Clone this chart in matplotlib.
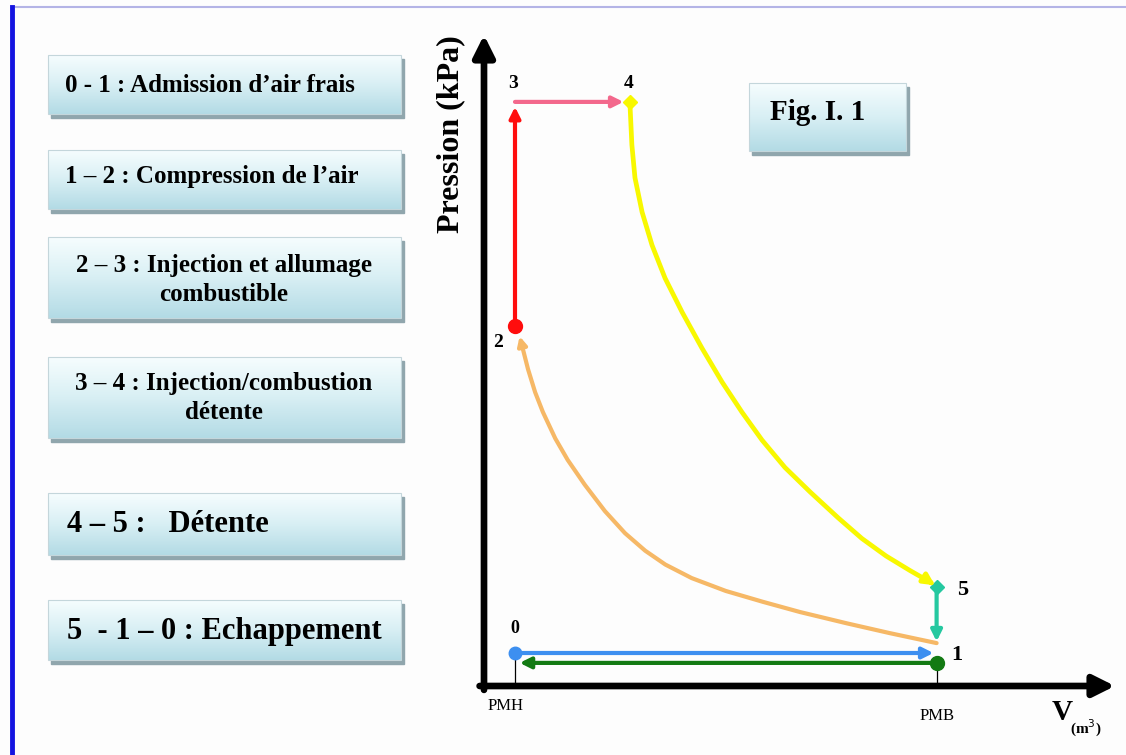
import matplotlib.pyplot as plt
import numpy as np
from matplotlib.colors import LinearSegmentedColormap
from matplotlib.patches import Rectangle

plt.rcParams['font.family'] = ['Liberation Serif', 'DejaVu Serif']

# points du cycle (unites arbitraires)
V_pmh = 1.0
V_pmb = 14.6
V_4 = 4.7
P_0 = 1.0
P_1 = 1.25
P_2 = 10.9
P_3 = 17.7
P_5 = 3.0
P_ech = 0.7

# compression 1 -> 2
comp_V = [14.6, 13.1, 11.7, 10.2, 9.0, 7.8, 6.7, 5.85, 5.2, 4.55, 3.9, 3.25, 2.7, 2.3, 1.9, 1.65, 1.42, 1.23]
comp_P = [1.3, 1.6, 1.9, 2.24, 2.55, 2.88, 3.27, 3.68, 4.1, 4.63, 5.3, 6.1, 6.85, 7.5, 8.3, 8.9, 9.6, 10.3]

# detente 4 -> 5
det_V = [4.71, 4.77, 4.87, 5.1, 5.42, 5.84, 6.39, 7.03, 7.68, 8.32, 8.97, 9.71, 10.52, 11.42, 12.19, 12.97, 13.74, 14.39]
det_P = [17.6, 16.4, 15.4, 14.36, 13.36, 12.36, 11.33, 10.24, 9.21, 8.3, 7.45, 6.62, 5.88, 5.1, 4.47, 3.94, 3.5, 3.15]

etapes = ['0 - 1 : Admission d\u2019air frais',
          '1 \u2013 2 : Compression de l\u2019air',
          '2 \u2013 3 : Injection et allumage\ncombustible',
          '3 \u2013 4 : Injection/combustion\nd\u00e9tente',
          '4 \u2013 5 :   D\u00e9tente',
          '5  - 1 \u2013 0 : Echappement']

fig = plt.figure(figsize=(11.26, 7.55), dpi=100)
fig.patch.set_facecolor('#fdfdfd')

# fond en coordonnees pixels pour le cadre et les boites
bg = fig.add_axes([0, 0, 1, 1])
bg.set_xlim(0, 1126)
bg.set_ylim(755, 0)
bg.axis('off')

bg.plot([12, 1126], [7, 7], color='#b4b4e6', lw=1.5)
bg.plot([12, 12], [7, 755], color='#1414e0', lw=3.5)

degrade = LinearSegmentedColormap.from_list('boite', ['#f6fdfe', '#d8eff4', '#b3dbe5'])
grad = np.linspace(0, 1, 100).reshape(-1, 1)


def boite(x0, y0, x1, y1):
    bg.add_patch(Rectangle((x0 + 3, y0 + 4), x1 - x0, y1 - y0, color='#90a6ad', zorder=1))
    bg.imshow(grad, cmap=degrade, extent=[x0, x1, y1, y0], aspect='auto', zorder=2)
    bg.add_patch(Rectangle((x0, y0), x1 - x0, y1 - y0, fill=False, ec='#c4d6db', lw=0.8, zorder=3))


boxes = [(48, 55, 401, 114), (48, 150, 401, 209), (48, 237, 401, 318),
         (48, 357, 401, 438), (48, 493, 401, 555), (48, 600, 401, 660)]
for b in boxes:
    boite(*b)
bg.set_xlim(0, 1126)
bg.set_ylim(755, 0)

bg.text(65, 86, etapes[0], fontsize=18, fontweight='bold', va='center', zorder=4)
bg.text(65, 176, etapes[1], fontsize=18, fontweight='bold', va='center', zorder=4)
bg.text(224, 280, etapes[2], fontsize=18, fontweight='bold', va='center', ha='center',
        linespacing=1.3, zorder=4)
bg.text(224, 398, etapes[3], fontsize=18, fontweight='bold', va='center', ha='center',
        linespacing=1.3, zorder=4)
bg.text(67, 525, etapes[4], fontsize=22, fontweight='bold', va='center', zorder=4)
bg.text(67, 631, etapes[5], fontsize=22, fontweight='bold', va='center', zorder=4)

boite(749, 83, 906, 151)
bg.text(770, 113, 'Fig. I. 1', fontsize=21, fontweight='bold', va='center', zorder=4)

# diagramme P-V
ax = fig.add_axes([484 / 1126, 69 / 755, 631 / 1126, 651 / 755])
ax.patch.set_alpha(0)
ax.set_xlim(0, 631 / 31)
ax.set_ylim(0, 651 / 33)
for s in ax.spines.values():
    s.set_visible(False)
ax.set_xticks([])
ax.set_yticks([])

ax.annotate('', xy=(1, 0), xytext=(-0.007, 0), xycoords='axes fraction',
            arrowprops=dict(arrowstyle='-|>', color='black', lw=4.8, mutation_scale=32, shrinkA=0, shrinkB=0))
ax.annotate('', xy=(0, 1), xytext=(0, -0.006), xycoords='axes fraction',
            arrowprops=dict(arrowstyle='-|>', color='black', lw=4.8, mutation_scale=32, shrinkA=0, shrinkB=0))


def fleche(x0, y0, x1, y1, c, ms=16, lw=3.0):
    ax.annotate('', xy=(x1, y1), xytext=(x0, y0),
                arrowprops=dict(arrowstyle='-|>', color=c, lw=lw, mutation_scale=ms,
                                shrinkA=0, shrinkB=0))


c_bleu = '#3d8ff0'
c_vert = '#137a13'
c_orange = '#f6b866'
c_rouge = '#ff0d0d'
c_rose = '#f3688c'
c_jaune = '#f8f800'
c_turq = '#25c8a0'

# traits PMH / PMB
ax.plot([V_pmh, V_pmh], [-0.35, P_0], color='black', lw=0.9)
ax.plot([V_pmb, V_pmb], [-0.35, P_ech], color='black', lw=0.9)

# 0 -> 1 admission
fleche(V_pmh, P_0, V_pmb - 0.1, P_0, c_bleu)
# 1 -> 0 echappement
fleche(V_pmb, P_ech, V_pmh + 0.15, P_ech, c_vert)
# 1 -> 2 compression
ax.plot(comp_V, comp_P, color=c_orange, lw=3.0, solid_capstyle='round', solid_joinstyle='round')
fleche(comp_V[-1], comp_P[-1], V_pmh + 0.15, P_2 - 0.3, c_orange, ms=13)
# 2 -> 3
fleche(V_pmh, P_2, V_pmh, P_3 - 0.15, c_rouge)
# 3 -> 4
fleche(V_pmh, P_3, V_4 - 0.2, P_3, c_rose)
# 4 -> 5 detente
ax.plot(det_V, det_P, color=c_jaune, lw=3.4, solid_capstyle='round', solid_joinstyle='round')
fleche(det_V[-1], det_P[-1], V_pmb - 0.05, P_5 + 0.05, c_jaune, lw=3.4)
# 5 -> 1
fleche(V_pmb, P_5, V_pmb, P_1 + 0.1, c_turq)

ax.plot(V_pmh, P_0, 'o', color=c_bleu, ms=9)
ax.plot(V_pmb, P_ech, 'o', color=c_vert, ms=10)
ax.plot(V_pmh, P_2, 'o', color=c_rouge, ms=10)
ax.plot(V_pmb, P_5, 'D', color=c_turq, ms=7)
ax.plot(V_4, P_3, 'D', color=c_jaune, ms=7)

num = dict(fontweight='bold', ha='center', va='center')
ax.text(V_pmh, P_0 + 0.75, '0', fontsize=13, **num)
ax.text(V_pmb + 0.65, P_1 - 0.3, '1', fontsize=16, **num)
ax.text(V_pmh - 0.55, P_2 - 0.5, '2', fontsize=14, **num)
ax.text(V_pmh - 0.05, P_3 + 0.55, '3', fontsize=14, **num)
ax.text(V_4 - 0.05, P_3 + 0.55, '4', fontsize=14, **num)
ax.text(V_pmb + 0.85, P_5 - 0.1, '5', fontsize=16, **num)

ax.text(V_pmh - 0.3, -0.6, 'PMH', fontsize=12, ha='center', va='center', clip_on=False)
ax.text(V_pmb, -0.9, 'PMB', fontsize=12, ha='center', va='center', clip_on=False)

bg.text(1062, 712, 'V', fontsize=21, fontweight='bold', ha='center', va='center')
bg.text(1086, 728, '(m$^3$)', fontsize=11, fontweight='bold', ha='center', va='center')
bg.text(451, 134, 'Pression (kPa)', fontsize=23, fontweight='bold', rotation=90,
        ha='center', va='center')

fig.savefig('out.png', dpi=100, facecolor=fig.get_facecolor())
